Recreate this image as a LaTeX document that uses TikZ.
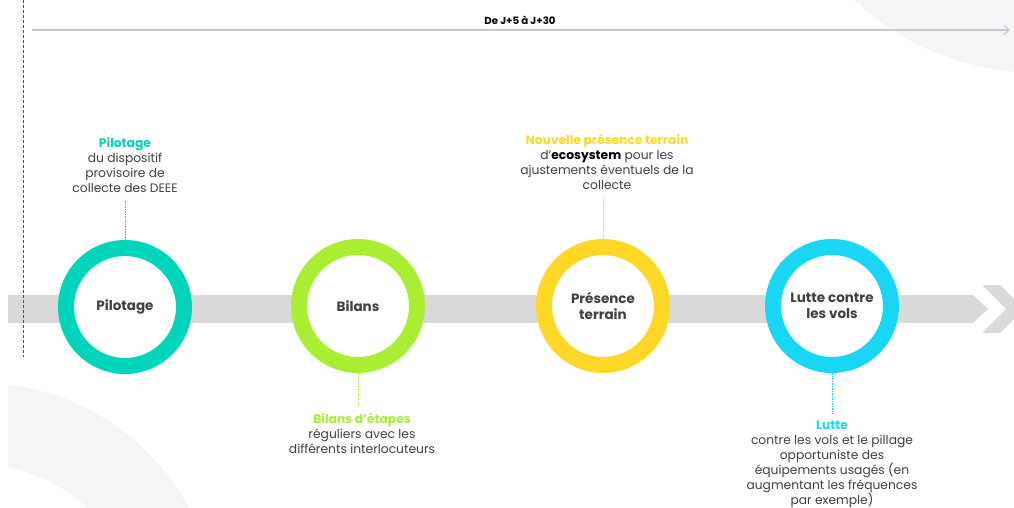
\documentclass[tikz,border=0pt]{standalone}
\usepackage{fontspec}
\setmainfont{Poppins}
\usetikzlibrary{arrows.meta}
\definecolor{teal1}{HTML}{00D4BA}
\definecolor{lime1}{HTML}{A9EE32}
\definecolor{yel1}{HTML}{FFD726}
\definecolor{cyan1}{HTML}{19D6F5}
\definecolor{bandc}{HTML}{D9D9D9}
\definecolor{bgs}{HTML}{F4F5F7}
\definecolor{txt}{HTML}{404040}
\definecolor{axisc}{HTML}{C5C9CE}
\begin{document}
\begin{tikzpicture}[x=1pt,y=-1pt,
  ring/.style={circle,draw=#1,line width=16pt,minimum size=118pt,fill=white,
    font=\bfseries\fontsize{13.5}{16}\selectfont,text=txt,align=center},
  desc/.style={align=center,inner sep=0pt,font=\fontsize{12.3}{15}\selectfont,text=txt},
  conn/.style={draw=#1,line width=0.8pt,dash pattern=on 1.5pt off 1pt}]
\useasboundingbox (0,0) rectangle (1014,508);
\begin{scope}
\clip (8,0) rectangle (1014,508);
\fill[bgs] (1040,-200) circle (273pt);
\fill[bgs,even odd rule] (-20,620) circle (237pt) (-20,620) circle (155pt);
\end{scope}
% timeline axis
\coordinate (a0) at (32,30);
\coordinate (a1) at (1010,30);
\draw[axisc,line width=1.2pt,-{Straight Barb[length=5pt,width=9pt]}] (a0) -- (a1);
\node[font=\bfseries\fontsize{10.2}{12}\selectfont,text=black] (range) at (520,20) {De J+5 à J+30};
% band
\begin{scope}
\clip (0,0) rectangle (1014,508);
\fill[bandc] (8,295) -- (973,295) -- (988,309) -- (973,323) -- (8,323) -- cycle;
\fill[bandc] (982,285) -- (1000,285) -- (1024,309) -- (1000,333) -- (982,333) -- (1006,309) -- cycle;
\end{scope}
% dashed start line
\coordinate (d0) at (23.5,0);
\coordinate (d1) at (23.5,357);
\draw[black!70,line width=0.8pt,dash pattern=on 3pt off 2pt] (d0) -- (d1);
% rings
\node[ring=teal1] (c1) at (125,307) {Pilotage};
\node[ring=lime1] (c2) at (358,306) {Bilans};
\node[ring=yel1] (c3) at (603,306) {Présence\\terrain};
\node[ring=cyan1] (c4) at (832,306) {Lutte contre\\les vols};
% descriptions
\node[desc] (t1) at (125,165.5) {{\bfseries\color{teal1}Pilotage}\\du dispositif\\provisoire de\\collecte des DEEE};
\node[desc] (t3) at (607,162) {{\bfseries\color{yel1}Nouvelle présence terrain}\\d’{\bfseries\color{black}ecosystem} pour les\\ajustements éventuels de la\\collecte};
\node[desc] (t2) at (362,433.5) {{\bfseries\color{lime1}Bilans d’étapes}\\réguliers avec les\\différents interlocuteurs};
\node[desc] (t4) at (832,464.5) {{\bfseries\color{cyan1}Lutte}\\contre les vols et le pillage\\opportuniste des\\équipements usagés (en\\augmentant les fréquences\\par exemple)};
% connectors
\coordinate (p1) at (125,200);
\coordinate (p3) at (603,196);
\coordinate (p2) at (358,405);
\coordinate (p4) at (832,414);
\draw[conn=teal1] (c1.north) -- (p1);
\draw[conn=yel1] (c3.north) -- (p3);
\draw[conn=lime1] (c2.south) -- (p2);
\draw[conn=cyan1] (c4.south) -- (p4);
\end{tikzpicture}
\end{document}
